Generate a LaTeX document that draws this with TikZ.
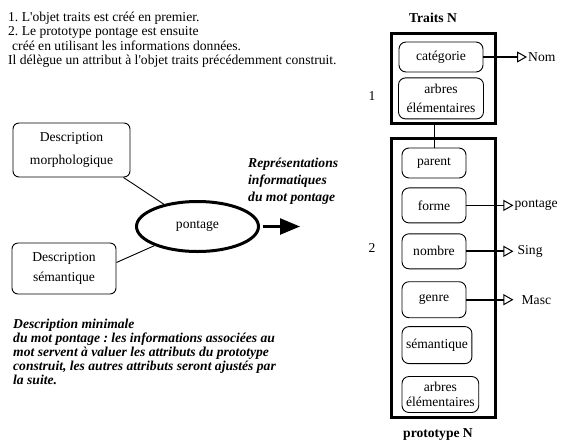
\documentclass[tikz,border=0pt]{standalone}
\usepackage{fontspec}
\setmainfont{Liberation Serif}[Ligatures=TeXOff]
\usetikzlibrary{shapes.geometric, arrows.meta, positioning}
\frenchspacing

\begin{document}
\begin{tikzpicture}[x=1pt, y=-1pt, >=Stealth, node distance=10pt,
        every node/.style={font=\fontsize{13.6}{14.5}\selectfont},
        outerbox/.style={rectangle, draw, line width=3pt, minimum width=104pt},
        field/.style={rectangle, draw, rounded corners=7pt, line width=0.9pt, align=center, minimum width=64pt, inner sep=4pt},
        descbox/.style={rectangle, draw, rounded corners=6pt, line width=0.9pt, align=center},
        note/.style={align=left, inner sep=0pt, anchor=north west, font=\fontsize{13.6}{14}\selectfont\bfseries\itshape},
        val/.style={anchor=west, inner sep=1pt},
        link/.style={line width=1.8pt, -{Triangle[open, length=10pt, width=11pt, line width=1pt]}}]

        \useasboundingbox (0,0) rectangle (562,440);

        % texte d'introduction
        \node[align=left, inner sep=0pt, anchor=north west] (intro) at (8,11.5)
            {1. L'objet traits est créé en premier.\\
             2. Le prototype pontage est ensuite\\
             \hspace*{4pt}créé en utilisant les informations données.\\
             Il délègue un attribut à l'objet traits précédemment construit.};

        % description du mot
        \node[descbox, minimum width=117pt, minimum height=54pt] (morph) at (71.5,150) {Description\\[8pt]morphologique};
        \node[descbox, minimum width=104pt, minimum height=51pt] (sem) at (64,268.5) {Description\\[6pt]sémantique};
        \node[ellipse, draw, line width=3pt, minimum width=122pt, minimum height=50pt] (pont) at (197.5,226.5) {pontage};
        \coordinate (out) at (300,226.5);

        \node[note, font=\fontsize{13.6}{17}\selectfont\bfseries\itshape] (repr) at (248,157.5)
            {Représentations\\informatiques\\du mot pontage};
        \node[note] (mini) at (13,318.7)
            {Description minimale\\
             du mot pontage : les informations associées au\\
             mot servent à valuer les attributs du prototype\\
             construit, les autres attributs seront ajustés par\\
             la suite.};

        \draw[line width=0.9pt] ([xshift=-7pt]morph.south east) -- (pont);
        \draw[line width=0.9pt] ([yshift=6pt]sem.east) -- (pont);
        \draw[line width=2.5pt, shorten <=3pt, -{Triangle[length=20pt, width=16pt]}] (pont.east) -- (out);

        % objet traits
        \node[font=\fontsize{13.6}{14.5}\selectfont\bfseries] (traitslbl) at (433,18) {Traits N};
        \node[outerbox, minimum height=90pt] (traits) at (443.5,78.5) {};
        \node[field, minimum width=84pt, minimum height=30pt] (cat) at (441,57) {catégorie};
        \node[field, minimum width=85pt, minimum height=41pt, below=5pt of cat] (arbresT) {arbres\\[5pt]élémentaires};
        \node (one) at (372,96) {1};
        \node[val] (nom) at (527,57) {Nom};
        \draw[link] (cat.east) -- (nom.west);

        % prototype
        \node[outerbox, minimum height=279pt] (proto) at (443.5,278) {};
        \node[field, minimum height=30pt] (parent) at (434,163) {parent};
        \node[field, minimum height=35pt, below=9pt of parent.south west, anchor=north west] (forme) {forme};
        \node[field, minimum height=35pt, below=10pt of forme.south west, anchor=north west] (nombre) {nombre};
        \node[field, minimum height=36pt, below=12pt of nombre.south west, anchor=north west] (genre) {genre};
        \node[field, minimum height=37pt, below=8pt of genre.south west, anchor=north west] (semT) {sémantique};
        \node[field, minimum height=36pt, below=12pt of semT.south west, anchor=north west] (arbresP) {arbres\\élémentaires};
        \node (two) at (372,248) {2};
        \node[font=\fontsize{13.6}{14.5}\selectfont\bfseries] (protolbl) at (438,435) {prototype N};

        \node[val, right=47pt of forme.east] (pontval) {pontage};
        \node[val, inner xsep=4pt, right=47pt of nombre.east] (sing) {Sing};
        \node[val, inner xsep=8pt, right=47pt of genre.east] (masc) {Masc};

        \draw[link] (forme.east) -- (pontval.west);
        \draw[link] (nombre.east) -- (sing.west);
        \draw[link] (genre.east) -- (masc.west);
        \draw[line width=1pt] (traits.south -| parent.north) -- (parent.north);
    \end{tikzpicture}
\end{document}
